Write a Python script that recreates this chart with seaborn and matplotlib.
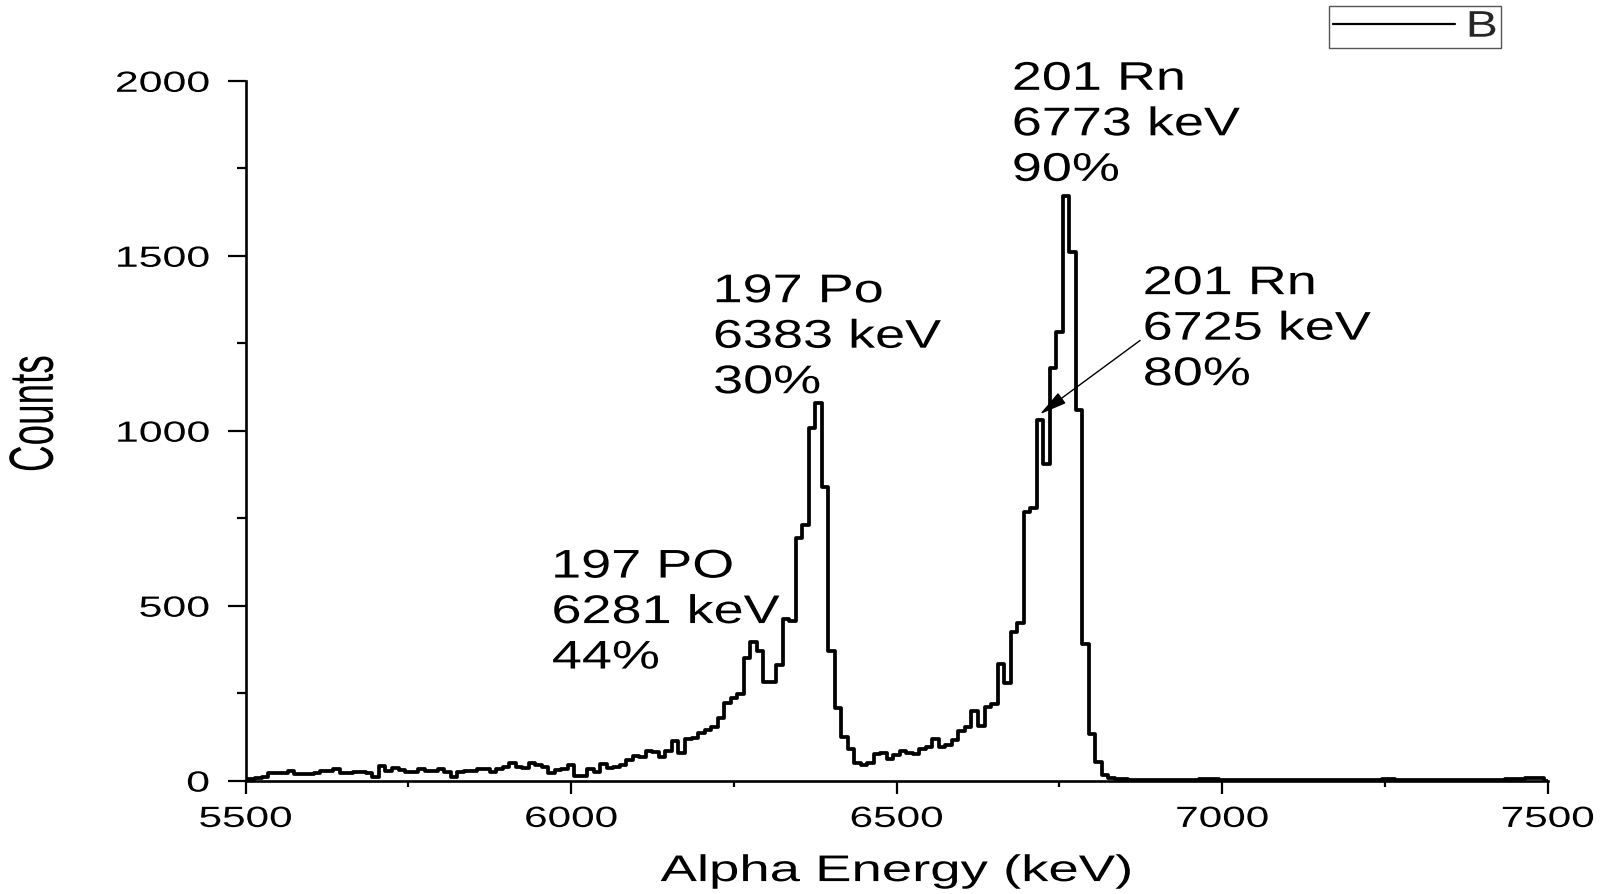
import numpy as np
import pandas as pd
import matplotlib
matplotlib.use("Agg")
import matplotlib.pyplot as plt
import seaborn as sns
from matplotlib.lines import Line2D
from matplotlib.patheffects import AbstractPathEffect
from matplotlib.transforms import Affine2D
from matplotlib.ticker import MultipleLocator, FixedLocator

# Alpha spectrum: counts per 10 keV channel, first channel centred at 5500 keV
energy_start = 5500
channel_width = 10
counts = [
    4, 5, 6, 9, 21, 23, 23, 27, 18, 19,                      # 5500
    19, 23, 27, 27, 32, 23, 23, 25, 25, 23,                  # 5600
    9, 42, 28, 35, 30, 25, 25, 32, 28, 28,                   # 5700
    32, 25, 11, 25, 28, 28, 32, 32, 25, 34,                  # 5800
    38, 51, 38, 36, 50, 46, 38, 21, 29, 34,                  # 5900
    45, 13, 13, 32, 25, 48, 36, 38, 45, 59,                  # 6000
    70, 67, 86, 82, 67, 84, 112, 78, 118, 121,               # 6100
    135, 145, 154, 178, 223, 235, 248, 350, 397, 370,        # 6200
    283, 283, 330, 462, 455, 693, 731, 1007, 1080, 840,      # 6300
    369, 207, 124, 90, 51, 45, 50, 76, 78, 61,               # 6400
    73, 86, 78, 75, 90, 97, 118, 95, 102, 116,               # 6500
    143, 154, 200, 157, 211, 219, 332, 280, 426, 450,        # 6600
    767, 779, 1030, 905, 1179, 1282, 1672, 1511, 1059, 389,  # 6700
    132, 52, 17, 8, 5, 4, 3, 3, 2, 2,                        # 6800
    3, 2, 2, 3, 2, 3, 3, 4, 5, 5,                            # 6900
    3, 2, 3, 2, 2, 3, 2, 2, 3, 2,                            # 7000
    2, 3, 2, 2, 3, 2, 2, 3, 2, 2,                            # 7100
    3, 2, 2, 3, 3, 4, 4, 3, 2, 2,                            # 7200
    3, 2, 2, 3, 2, 2, 3, 2, 2, 3,                            # 7300
    3, 2, 3, 3, 4, 4, 5, 6, 8, 7,                            # 7400
    0,                                                       # 7500
]
energy = energy_start + channel_width * np.arange(len(counts))
edges = np.append(energy - channel_width / 2, energy[-1] + channel_width / 2)
spectrum = pd.DataFrame({"energy": energy, "counts": counts})

series_name = "B"
x_ticks = [5500, 6000, 6500, 7000, 7500]
y_ticks = [0, 500, 1000, 1500, 2000]

# peak labels (text, left x in keV, top y in counts)
peak_text = ["201 Rn\n6773 keV\n90%", "197 Po\n6383 keV\n30%",
             "197 PO\n6281 keV\n44%", "201 Rn\n6725 keV\n80%"]
peak_text_x = [6678, 6219, 5971, 6879]
peak_text_y = [2060, 1453, 666, 1476]
arrow_from = (6874, 1258)
arrow_to = (6720, 1047)


class Stretch(AbstractPathEffect):
    """Draw text glyphs scaled along the writing direction."""

    def __init__(self, sx, anchor="center"):
        super().__init__()
        self.sx = sx
        self.anchor = anchor

    def draw_path(self, renderer, gc, tpath, affine, rgbFace=None):
        ext = tpath.get_extents()
        if self.anchor == "left":
            ref = ext.x0
        elif self.anchor == "right":
            ref = ext.x1
        else:
            ref = 0.5 * (ext.x0 + ext.x1)
        pre = Affine2D().translate(-ref, 0).scale(self.sx, 1).translate(ref, 0)
        renderer.draw_path(gc, tpath, pre + affine, rgbFace)


sns.set_theme(style="ticks")
plt.rcParams["font.family"] = ["Liberation Sans", "DejaVu Sans"]

fig = plt.figure(figsize=(16.04, 8.94), dpi=100)
ax = fig.add_axes([0.15306, 0.12685, 0.81185, 0.78277])

sns.histplot(data=spectrum, x="energy", weights="counts", bins=edges.tolist(),
             element="step", fill=False, color="black", linewidth=2.7,
             ax=ax, legend=False)

ax.set_xlim(5500, 7500)
ax.set_ylim(0, 2000)
ax.xaxis.set_major_locator(FixedLocator(x_ticks))
ax.yaxis.set_major_locator(FixedLocator(y_ticks))
ax.xaxis.set_minor_locator(MultipleLocator(250))
ax.yaxis.set_minor_locator(MultipleLocator(250))

for side in ("top", "right"):
    ax.spines[side].set_visible(False)
for side in ("left", "bottom"):
    ax.spines[side].set_linewidth(1.9)
    ax.spines[side].set_color("black")

ax.tick_params(axis="both", which="both", direction="out", color="black",
               width=1.6, labelcolor="black")
ax.tick_params(axis="y", which="major", length=13, pad=13, labelsize=21)
ax.tick_params(axis="y", which="minor", length=6.5)
ax.tick_params(axis="x", which="major", length=9.5, pad=8, labelsize=21)
ax.tick_params(axis="x", which="minor", length=4.5)

ax.set_xlabel("Alpha Energy (keV)", fontsize=26.7, color="black")
ax.xaxis.set_label_coords(0.5, -0.105)
ax.set_ylabel("Counts", fontsize=45, color="black")
ax.yaxis.set_label_coords(-0.138, 0.524)

for txt, tx, ty in zip(peak_text, peak_text_x, peak_text_y):
    t = ax.text(tx, ty, txt, fontsize=28.8, ha="left", va="top",
                linespacing=1.25, color="black")
    t.set_path_effects([Stretch(1.35, "left")])

ax.annotate("", xy=arrow_to, xytext=arrow_from,
            arrowprops=dict(arrowstyle="-|>,head_length=1.7,head_width=0.4",
                            color="black", lw=1.0, shrinkA=0, shrinkB=0,
                            mutation_scale=10))

handle = Line2D([], [], color="black", lw=1.6)
leg = ax.legend([handle], [series_name], loc="upper right",
                bbox_to_anchor=(1501 / 1604, 1 - 6 / 894),
                bbox_transform=fig.transFigure, fontsize=26.7,
                frameon=True, fancybox=False, edgecolor="#555555",
                framealpha=1, borderpad=0.1, borderaxespad=0,
                handlelength=3.3, handletextpad=0.46)
leg.get_frame().set_linewidth(1.0)
for t in leg.get_texts():
    t.set_path_effects([Stretch(1.3, "right")])

fig.canvas.draw()
for lab in ax.get_yticklabels():
    lab.set_path_effects([Stretch(1.47, "right")])
for lab in ax.get_xticklabels():
    lab.set_path_effects([Stretch(1.45, "center")])
ax.xaxis.label.set_path_effects([Stretch(1.47, "center")])
ax.yaxis.label.set_path_effects([Stretch(0.59, "center")])

fig.savefig("out.png", dpi=100)
